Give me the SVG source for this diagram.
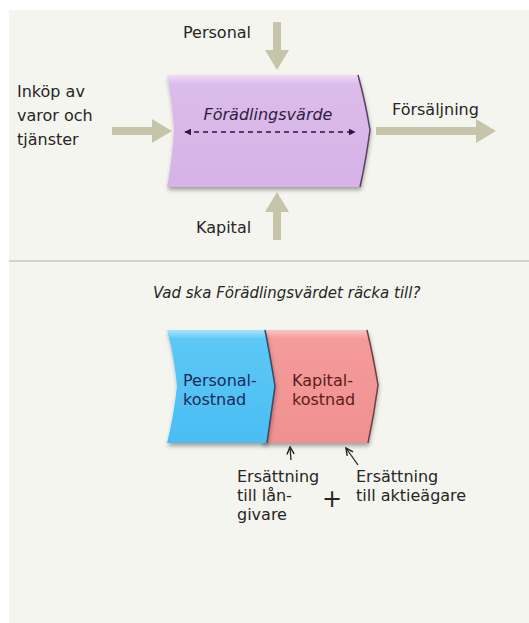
<svg xmlns="http://www.w3.org/2000/svg" width="529" height="623" viewBox="0 0 529 623">
<defs>
<style>
.t{font-family:"DejaVu Sans","Liberation Sans",sans-serif;font-size:16px;fill:#262626}
.i{font-style:italic}
.flow{fill:#c6c5aa}
</style>
<linearGradient id="gP" x1="0" y1="0" x2="0" y2="1">
<stop offset="0" stop-color="#efdcf6"/><stop offset="0.08" stop-color="#dcbcea"/><stop offset="1" stop-color="#d6b2e6"/>
</linearGradient>
<linearGradient id="gB" x1="0" y1="0" x2="0" y2="1">
<stop offset="0" stop-color="#a8e4fb"/><stop offset="0.08" stop-color="#5cc8f6"/><stop offset="1" stop-color="#4bbdf2"/>
</linearGradient>
<linearGradient id="gR" x1="0" y1="0" x2="0" y2="1">
<stop offset="0" stop-color="#f9c6c6"/><stop offset="0.08" stop-color="#f39b9b"/><stop offset="1" stop-color="#f19090"/>
</linearGradient>
<filter id="sh" x="-10%" y="-10%" width="125%" height="130%">
<feDropShadow dx="1" dy="3" stdDeviation="2" flood-color="#000" flood-opacity="0.35"/>
</filter>
<marker id="ah" viewBox="0 0 10 10" refX="9" refY="5" markerWidth="7" markerHeight="7" orient="auto-start-reverse" markerUnits="userSpaceOnUse">
<path d="M0,0 L10,5 L0,10 z" fill="#2a1a3a"/>
</marker>
<marker id="oh" viewBox="0 0 10 10" refX="9" refY="5" markerWidth="9" markerHeight="9" orient="auto" markerUnits="userSpaceOnUse">
<path d="M1,1 L9,5 L1,9" fill="none" stroke="#222" stroke-width="1.6"/>
</marker>
</defs>
<rect x="0" y="0" width="529" height="623" fill="#ffffff"/>
<rect x="9" y="10" width="520" height="613" fill="#f5f5f0"/>
<line x1="9" y1="261" x2="529" y2="261" stroke="#c9c9c2" stroke-width="1.5"/>

<g id="connectors">
<path class="flow" d="M273,22 h8 v28 h8 l-12,20 l-12,-20 h8 z"/>
<path class="flow" d="M273,240 v-28 h-8 l12,-20 l12,20 h-8 v28 z"/>
<path class="flow" d="M112,127 h40 v-8 l20,12 l-20,12 v-8 h-40 z"/>
<path class="flow" d="M376,127 h100 v-8 l20,12 l-20,12 v-8 h-100 z"/>
<line x1="291" y1="460" x2="290" y2="447" stroke="#222" stroke-width="1.3" marker-end="url(#oh)"/>
<line x1="358" y1="465" x2="346" y2="448" stroke="#222" stroke-width="1.3" marker-end="url(#oh)"/>
</g>

<g id="forädlingsvärde">
<path d="M167,75 L358,75 Q365,100 370,130 Q366,160 360,187 L167,187 Q172,160 174,130 Q172,100 167,75 z" fill="url(#gP)" filter="url(#sh)"/>
<path d="M358,75 Q365,100 370,130 Q366,160 360,187" fill="none" stroke="#5a3e6a" stroke-width="1.5"/>
<text class="t i" x="268" y="120" text-anchor="middle" style="fill:#2e2040">Förädlingsvärde</text>
<line x1="185" y1="132" x2="355" y2="132" stroke="#2a1a3a" stroke-width="1.6" stroke-dasharray="5,4" marker-start="url(#ah)" marker-end="url(#ah)"/>
</g>

<g id="personal"><text class="t" x="183" y="38">Personal</text></g>
<g id="kapital"><text class="t" x="196" y="233">Kapital</text></g>
<g id="inkop"><text class="t" x="17" y="97">Inköp av</text><text class="t" x="17" y="121">varor och</text><text class="t" x="17" y="145">tjänster</text></g>
<g id="forsaljning"><text class="t" x="392" y="115">Försäljning</text></g>

<g id="fraga"><text class="t i" x="153" y="298" style="font-size:15px">Vad ska Förädlingsvärdet räcka till?</text></g>

<g id="kapitalkostnad">
<path d="M262,330 L367,330 Q373,355 378,385 Q374,415 368,443 L262,443 z" fill="url(#gR)" filter="url(#sh)"/>
<path d="M367,330 Q373,355 378,385 Q374,415 368,443" fill="none" stroke="#7a3a3a" stroke-width="1.5"/>
<text class="t" x="292" y="386" style="fill:#5a1c1c">Kapital-</text>
<text class="t" x="292" y="405" style="fill:#5a1c1c">kostnad</text>
</g>
<g id="personalkostnad">
<path d="M167,330 L265,330 Q270,355 275,386 Q271,415 267,443 L167,443 Q174,415 177,386 Q174,355 167,330 z" fill="url(#gB)" filter="url(#sh)"/>
<path d="M265,330 Q270,355 275,386 Q271,415 267,443" fill="none" stroke="#2d4d6a" stroke-width="1.5"/>
<text class="t" x="183" y="386" style="fill:#1c2a5a">Personal-</text>
<text class="t" x="183" y="405" style="fill:#1c2a5a">kostnad</text>
</g>

<g id="langivare"><text class="t" x="237" y="482">Ersättning</text><text class="t" x="237" y="501">till lån-</text><text class="t" x="237" y="520">givare</text></g>
<g id="plus"><text class="t" x="332" y="507" text-anchor="middle" style="font-size:24px">+</text></g>
<g id="aktieagare"><text class="t" x="356" y="482">Ersättning</text><text class="t" x="356" y="501">till aktieägare</text></g>
</svg>
